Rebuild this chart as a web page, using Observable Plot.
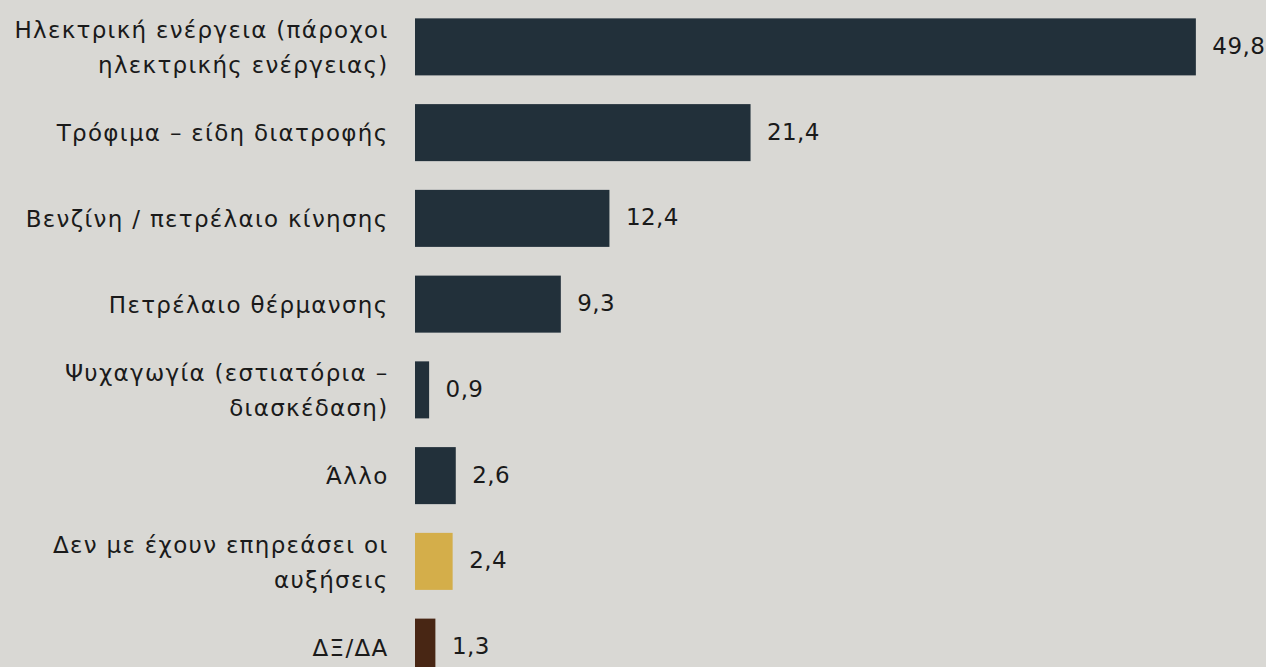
<!DOCTYPE html>
<html>
<head>
<meta charset="utf-8">
<script src="https://cdn.jsdelivr.net/npm/d3@7"></script>
<script src="https://cdn.jsdelivr.net/npm/@observablehq/plot@0.6"></script>
<style>
  html, body { margin: 0; padding: 0; background: #d9d8d4; overflow: hidden; }
  #chart svg { display: block; }
  #chart g[aria-label="y-axis tick label"] text { letter-spacing: 1.3px; }
  #chart g[aria-label="text"] text { letter-spacing: 0.4px; }
</style>
</head>
<body>
<div id="chart"></div>
<script>
const categories = [
  "Ηλεκτρική ενέργεια (πάροχοι ηλεκτρικής ενέργειας)",
  "Τρόφιμα – είδη διατροφής",
  "Βενζίνη / πετρέλαιο κίνησης",
  "Πετρέλαιο θέρμανσης",
  "Ψυχαγωγία (εστιατόρια – διασκέδαση)",
  "Άλλο",
  "Δεν με έχουν επηρεάσει οι αυξήσεις",
  "ΔΞ/ΔΑ"
];
const tickLabels = [
  "Ηλεκτρική ενέργεια (πάροχοι\nηλεκτρικής ενέργειας)",
  "Τρόφιμα – είδη διατροφής",
  "Βενζίνη / πετρέλαιο κίνησης",
  "Πετρέλαιο θέρμανσης",
  "Ψυχαγωγία (εστιατόρια –\nδιασκέδαση)",
  "Άλλο",
  "Δεν με έχουν επηρεάσει οι\nαυξήσεις",
  "ΔΞ/ΔΑ"
];
const values = [49.8, 21.4, 12.4, 9.3, 0.9, 2.6, 2.4, 1.3];
const groups = ["main", "main", "main", "main", "main", "main", "unaffected", "dk"];

const data = categories.map((c, i) => ({category: c, value: values[i], group: groups[i]}));
const labelMap = new Map(categories.map((c, i) => [c, tickLabels[i]]));
const fmt = v => v.toFixed(1).replace(".", ",");

const chart = Plot.plot({
  width: 1266,
  height: 690,
  marginLeft: 415,
  marginRight: 67,
  marginTop: 4,
  marginBottom: 0,
  style: {background: "#d9d8d4", fontFamily: "DejaVu Sans, sans-serif", color: "#1a1a1a"},
  x: {domain: [0, 50], axis: null},
  y: {domain: categories, paddingInner: 0.335, paddingOuter: 0.1675, round: false, label: null},
  color: {domain: ["main", "unaffected", "dk"], range: ["#22303a", "#d4ae4a", "#482614"]},
  marks: [
    Plot.axisY({
      tickSize: 0,
      tickPadding: 27,
      fontSize: 23,
      lineHeight: 1.52,
      dy: -3,
      fill: "#1a1a1a",
      tickFormat: d => labelMap.get(d),
      label: null
    }),
    Plot.barX(data, {x: "value", y: "category", fill: "group"}),
    Plot.text(data, {
      x: "value", y: "category", text: d => fmt(d.value),
      textAnchor: "start", dx: 16, dy: -1, fontSize: 23, fill: "#1a1a1a"
    })
  ]
});
document.getElementById("chart").appendChild(chart);
</script>
</body>
</html>
